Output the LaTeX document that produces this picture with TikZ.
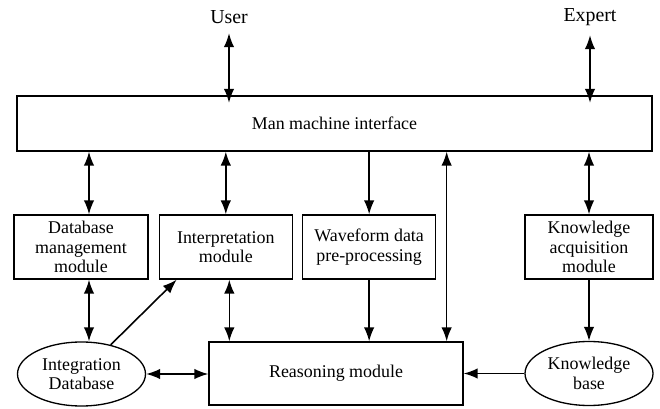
\documentclass[tikz,border=0pt]{standalone}
\usepackage{fontspec}
\setmainfont{Liberation Serif}
\usetikzlibrary{arrows.meta,positioning,shapes.geometric}
\tikzset{
  arr/.style={-{Latex[length=2.8mm,width=2.1mm]}, line width=0.9pt, draw=black},
  arrtwo/.style={{Latex[length=2.8mm,width=2.1mm]}-{Latex[length=2.8mm,width=2.1mm]}, line width=0.9pt, draw=black},
  figbase/.style={
    font=\fontsize{10.2}{11.2}\selectfont,
    color=black,
  },
  box/.style={
    draw=black, line width=0.75pt,
    inner sep=2pt,
    align=center,
    minimum height=1.28cm,
  },
  store/.style={
    ellipse, draw=black, line width=0.75pt,
    inner sep=0pt, align=center,
    minimum width=2.56cm, minimum height=1.28cm,
  },
  actor/.style={font=\fontsize{11.3}{13}\selectfont, inner sep=1pt},
}

\begin{document}
\begin{tikzpicture}[figbase]
  \useasboundingbox (0,0) rectangle (13.2,-8.18);

  \node[actor] (user) at (4.58,-0.34) {User};
  \node[actor] (expert) at (11.8,-0.34) {Expert};

  \node[box, minimum width=12.7cm, minimum height=1.1cm] (mmi) at (6.69,-2.47)
    {Man machine interface};

  \node[box, minimum width=2.68cm] (dbm) at (1.62,-4.94)
    {Database\\management\\module};
  \node[box, minimum width=2.66cm, right=0.2cm of dbm] (interp)
    {Interpretation\\module};
  \node[box, minimum width=2.66cm, right=0.18cm of interp] (wave)
    {Waveform data\\pre-processing};
  \node[box, minimum width=2.56cm] (kacq) at (11.78,-4.94)
    {Knowledge\\acquisition\\module};

  \node[box, minimum width=5.08cm, minimum height=1.26cm] (reason) at (6.72,-7.47)
    {Reasoning module};
  \node[store] (intdb) at (1.63,-7.48) {Integration\\Database};
  \node[store] (kb) at (11.78,-7.47) {Knowledge\\base};

  \draw[arrtwo] ([yshift=-0.15cm]user.south) -- ([yshift=-0.15cm]user.south |- mmi.north);
  \draw[arrtwo] ([yshift=-0.15cm]expert.south) -- ([yshift=-0.15cm]expert.south |- mmi.north);

  \draw[arrtwo] ([xshift=0.16cm]dbm.north) -- ([xshift=0.16cm]dbm.north |- mmi.south);
  \draw[arrtwo] (interp.north) -- (interp.north |- mmi.south);
  \draw[arr] (wave.north |- mmi.south) -- (wave.north);
  \draw[arrtwo] ([xshift=-0.34cm]reason.north east) -- ([xshift=-0.34cm]reason.north east |- mmi.south);
  \draw[arrtwo] (kacq.north) -- (kacq.north |- mmi.south);

  \draw[arrtwo] ([xshift=0.16cm]dbm.south) -- ([xshift=0.16cm]dbm.south |- intdb.north);
  \draw[arr] (intdb.45) -- ([xshift=0.36cm]interp.south west);
  \draw[arrtwo] ([xshift=0.07cm]interp.south) -- ([xshift=0.07cm]interp.south |- reason.north);
  \draw[arr] (wave.south) -- (wave.south |- reason.north);
  \draw[arr] (kacq) -- (kb);

  \draw[arrtwo] (intdb.east) -- (intdb.east -| reason.west);
  \draw[arr] (kb) -- (reason);
\end{tikzpicture}
\end{document}
